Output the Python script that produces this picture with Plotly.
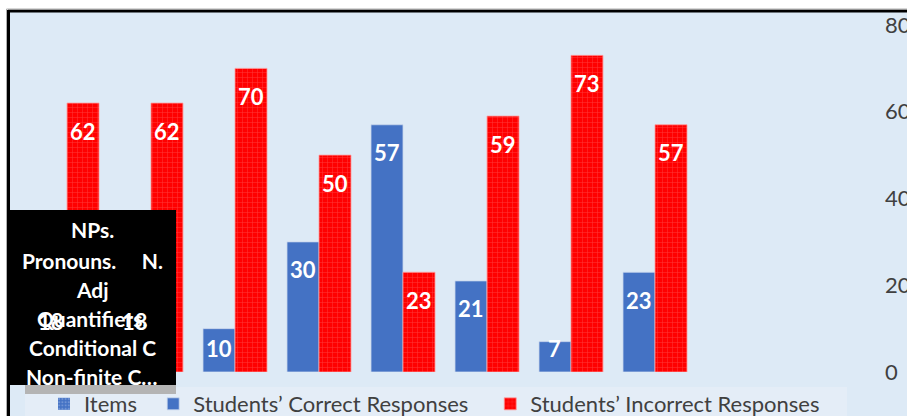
import plotly.graph_objects as go

# ---------------- data ----------------
groups = ["G1", "G2", "G3", "G4", "G5", "G6", "G7", "G8", "G9", "G10"]
correct = [18, 18, 10, 30, 57, 21, 7, 23, None, None]
incorrect = [62, 62, 70, 50, 23, 59, 73, 57, None, None]
items = [None] * len(groups)
series_names = ["Items", "Students\u2019 Correct Responses", "Students\u2019 Incorrect Responses"]
y_ticks = [0, 20, 40, 60, 80]
box_lines = ["NPs.", "Pronouns.\u00a0\u00a0\u00a0\u00a0\u00a0N.", "Adj", "Quantifiers.", "Conditional C", "Non-finite C\u2026"]

# ---------------- layout geometry ----------------
W, H = 907, 416
ML, MR, MT, MB = 25, 42, 25, 44
PW = W - ML - MR
PH = H - MT - MB
BG = "#DDEAF6"
BLUE = "#4472C4"
RED = "#FF0000"
FONT = "Lato"
GRAY = "#404040"
PAD = "\u00a0"


def px_x(px):
    return (px - ML) / PW


def px_y(py):
    return (H - MB - py) / PH


fig = go.Figure()

fig.add_trace(go.Bar(
    x=groups, y=items, name=series_names[0] + PAD * 2, offsetgroup="a",
    marker=dict(color=BLUE, line=dict(width=0),
                pattern=dict(shape=".", fgcolor="#9DB5E3", size=4, solidity=0.35)),
    hoverinfo="skip",
))
fig.add_trace(go.Bar(
    x=groups, y=correct, name=series_names[1] + PAD * 3, offsetgroup="a",
    marker=dict(color=BLUE, line=dict(width=0.8, color="#C9D7EE")),
))
fig.add_trace(go.Bar(
    x=groups, y=incorrect, name=series_names[2], offsetgroup="b",
    marker=dict(color=RED, line=dict(width=0.8, color="#FF9A9A"),
                pattern=dict(shape="+", fgcolor="#FF6A6A", size=5, solidity=0.2)),
))

ppu = PH / (y_ticks[-1] - y_ticks[0])
bargap = 0.238
bar_w = PW / len(groups) * (1 - bargap) / 2

annotations = []
for vals, shift in ((correct, -bar_w / 2), (incorrect, bar_w / 2)):
    for g, v in zip(groups, vals):
        if v is None:
            continue
        drop = min(28, v * ppu - 24)
        annotations.append(dict(
            x=g, y=v, xref="x", yref="y", text=str(v), showarrow=False,
            xshift=shift, yshift=-drop, yanchor="middle", xanchor="center",
            font=dict(family=FONT, size=22, color="white", weight="bold"),
        ))

# black category-label box
box_centers = [230, 260, 289, 318, 347, 376]
box_ann = []
for t, cy in zip(box_lines, box_centers):
    box_ann.append(dict(
        x=px_x(92), y=px_y(cy), xref="paper", yref="paper", text=t, showarrow=False,
        xanchor="center", yanchor="middle",
        font=dict(family=FONT, size=21, color="white", weight="bold"),
    ))
# box annotations first, so the value labels draw on top of them
annotations = box_ann + annotations

shapes = [
    # legend strip
    dict(type="rect", xref="paper", yref="paper", x0=px_x(25), x1=px_x(847),
         y0=px_y(387), y1=px_y(420), fillcolor="#E4EDF7", line=dict(width=0), layer="below"),
    # white top / left frame area
    dict(type="rect", xref="paper", yref="paper", x0=px_x(-5), x1=px_x(915),
         y0=px_y(10), y1=px_y(-5), fillcolor="white", line=dict(width=0), layer="above"),
    dict(type="rect", xref="paper", yref="paper", x0=px_x(-5), x1=px_x(8),
         y0=px_y(420), y1=px_y(-5), fillcolor="white", line=dict(width=0), layer="above"),
    dict(type="line", xref="paper", yref="paper", x0=px_x(8), x1=px_x(915),
         y0=px_y(11), y1=px_y(11), line=dict(color="black", width=3), layer="above"),
    dict(type="line", xref="paper", yref="paper", x0=px_x(8.5), x1=px_x(8.5),
         y0=px_y(420), y1=px_y(10), line=dict(color="black", width=3), layer="above"),
    dict(type="line", xref="paper", yref="paper", x0=px_x(6.5), x1=px_x(915),
         y0=px_y(9), y1=px_y(9), line=dict(color="#AFAFAF", width=1), layer="above"),
    dict(type="line", xref="paper", yref="paper", x0=px_x(6.5), x1=px_x(6.5),
         y0=px_y(420), y1=px_y(9), line=dict(color="#AFAFAF", width=1), layer="above"),
    # gray dotted strip below the box
    dict(type="rect", xref="paper", yref="paper", x0=px_x(25), x1=px_x(176),
         y0=px_y(394), y1=px_y(385), fillcolor="#B4B4B4", line=dict(width=0), layer="above"),
    # black label box
    dict(type="rect", xref="paper", yref="paper", x0=px_x(9), x1=px_x(176),
         y0=px_y(385), y1=px_y(210), fillcolor="black", line=dict(width=0), layer="above"),
]

fig.update_layout(
    width=W, height=H,
    margin=dict(l=ML, r=MR, t=MT, b=MB, pad=0, autoexpand=False),
    paper_bgcolor=BG, plot_bgcolor=BG,
    barmode="group", bargap=bargap, bargroupgap=0,
    font=dict(family=FONT, color=GRAY),
    showlegend=True,
    legend=dict(orientation="h", x=44 / W, y=(H - 404) / H, xref="container", yref="container",
                xanchor="left", yanchor="middle",
                bgcolor="rgba(0,0,0,0)", font=dict(family=FONT, size=22, color=GRAY),
                traceorder="normal", itemclick=False),
    xaxis=dict(showticklabels=False, showgrid=False, zeroline=False, showline=False,
               range=[-0.5, len(groups) - 0.5], fixedrange=True),
    yaxis=dict(side="right", range=[y_ticks[0], y_ticks[-1]], tickvals=y_ticks,
               showgrid=False, zeroline=False, showline=False, ticks="",
               tickfont=dict(family=FONT, size=22, color=GRAY), ticklabelstandoff=19,
               fixedrange=True),
    annotations=annotations,
    shapes=shapes,
)

fig.write_html("out.html")
